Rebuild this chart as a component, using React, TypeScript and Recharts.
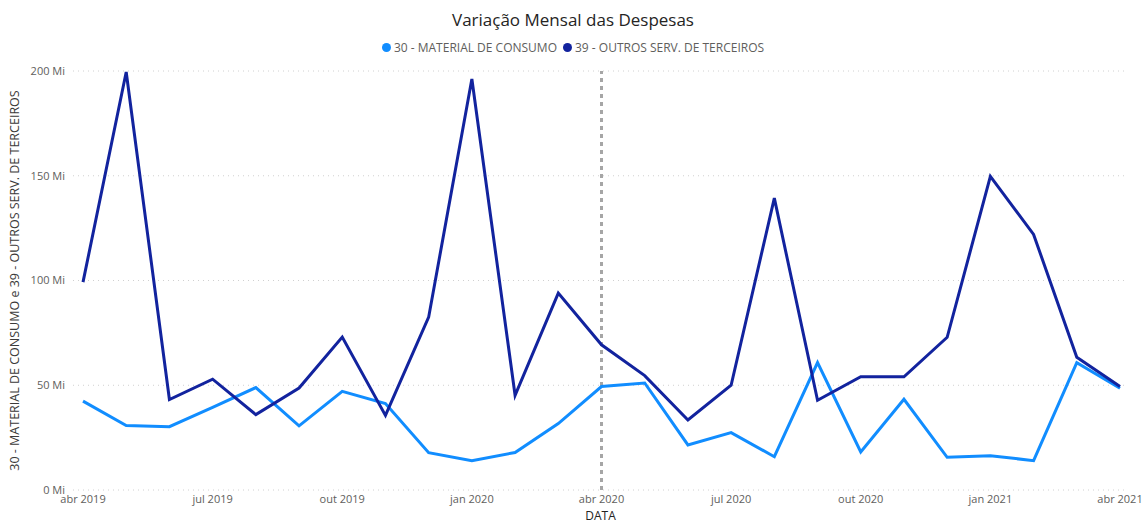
import React from 'react';
import { LineChart, Line, XAxis, YAxis, CartesianGrid, ReferenceLine } from 'recharts';

const months = ['abr 2019','mai 2019','jun 2019','jul 2019','ago 2019','set 2019','out 2019','nov 2019','dez 2019','jan 2020','fev 2020','mar 2020','abr 2020','mai 2020','jun 2020','jul 2020','ago 2020','set 2020','out 2020','nov 2020','dez 2020','jan 2021','fev 2021','mar 2021','abr 2021'];
const materialConsumo = [42.4,30.8,30.2,39.4,48.9,30.6,47.1,41.3,17.8,14.0,17.9,31.7,49.4,51.1,21.5,27.4,15.9,60.8,18.2,43.3,15.6,16.4,14.0,60.8,48.6];
const outrosServicos = [99.2,199.5,43.2,52.9,36.0,48.7,73.0,35.6,82.5,196.2,45.2,94.0,69.3,54.6,33.4,50.0,139.3,42.8,54.1,54.0,72.9,149.7,122.0,63.4,49.4];
const xTicks = [0,3,6,9,12,15,18,21,24];
const yTicks = [0,50,100,150,200];

const data = months.map((m, i) => ({ i, m, a: materialConsumo[i], b: outrosServicos[i] }));

const FONT = "'Open Sans', 'Noto Sans', sans-serif";
const C1 = '#118DFF';
const C2 = '#12239E';

export default function App() {
  return (
    <div style={{ position: 'absolute', left: 0, top: 0, width: 1146, height: 523, background: '#fff', fontFamily: FONT }}>
      <div style={{ position: 'absolute', top: 8, left: 0, width: 1146, textAlign: 'center', fontSize: 17, color: '#252423', fontFamily: FONT }}>
        Variação Mensal das Despesas
      </div>
      <div style={{ position: 'absolute', top: 39, left: 0, width: 1146, textAlign: 'center', fontSize: 12, color: '#605E5C', fontFamily: FONT }}>
        <span style={{ display: 'inline-block', width: 9, height: 9, borderRadius: 5, background: C1, marginRight: 3 }} />
        <span>30 - MATERIAL DE CONSUMO</span>
        <span style={{ display: 'inline-block', width: 9, height: 9, borderRadius: 5, background: C2, marginLeft: 6, marginRight: 3 }} />
        <span>39 - OUTROS SERV. DE TERCEIROS</span>
      </div>
      <div style={{ position: 'absolute', left: 0, top: 0 }}>
        <LineChart width={1146} height={523} data={data} margin={{ top: 71, right: 18, bottom: 3, left: 13 }}>
          <CartesianGrid vertical={false} stroke="#D0D0D0" strokeDasharray="1 4" />
          <XAxis
            dataKey="i"
            type="number"
            domain={[0, 24]}
            ticks={xTicks}
            tickFormatter={(v) => months[v]}
            padding={{ left: 10, right: 8 }}
            height={30}
            axisLine={false}
            tickLine={false}
            tickSize={0}
            tickMargin={5}
            tick={{ fontSize: 11, fill: '#605E5C', fontFamily: FONT }}
            interval={0}
            label={{ value: 'DATA', position: 'insideBottom', offset: 0, fontSize: 12, fill: '#252423', fontFamily: FONT }}
          />
          <YAxis
            domain={[0, 200]}
            ticks={yTicks}
            tickFormatter={(v) => `${v} Mi`}
            width={60}
            axisLine={false}
            tickLine={false}
            tickSize={0}
            tickMargin={8}
            tick={{ fontSize: 11, fill: '#605E5C', fontFamily: FONT }}
            label={{ value: '30 - MATERIAL DE CONSUMO e 39 - OUTROS SERV. DE TERCEIROS', angle: -90, position: 'insideLeft', offset: 2, fontSize: 12.5, fill: '#3B3A39', fontFamily: FONT, style: { textAnchor: 'middle' } }}
          />
          <ReferenceLine x={12} stroke="#A6A6A6" strokeWidth={3} strokeDasharray="4 4" />
          <Line dataKey="a" stroke={C1} strokeWidth={3} dot={false} isAnimationActive={false} />
          <Line dataKey="b" stroke={C2} strokeWidth={3} dot={false} isAnimationActive={false} />
        </LineChart>
      </div>
    </div>
  );
}
